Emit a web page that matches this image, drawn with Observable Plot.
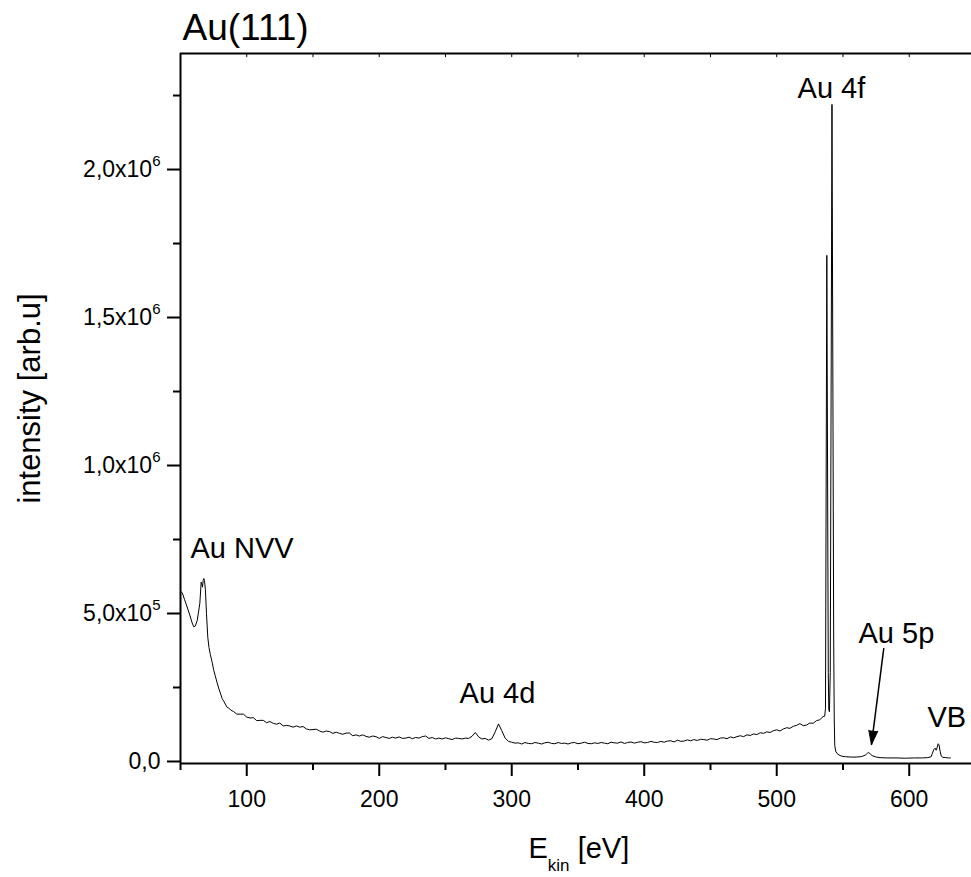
<!DOCTYPE html>
<html><head><meta charset="utf-8">
<script src="https://cdn.jsdelivr.net/npm/d3@7"></script>
<script src="https://cdn.jsdelivr.net/npm/@observablehq/plot@0.6"></script>
<style>body{margin:0;background:#fff}#chart svg{display:block}</style>
</head><body><div id="chart"></div>
<script>
// ---------- data (intensity values in thousands of counts) ----------
// Au NVV region: explicit energies (eV) and intensities (k counts)
const nvvE = [50, 51.3, 53, 55, 57, 58.8, 60, 61.2, 62.6, 63.6, 64.6, 65.6, 66.1, 66.6, 67.1, 67.6, 68.1, 68.8, 69.6, 70.6, 71.5, 72.5, 73.9, 75, 76.2, 77.7, 79, 80.3, 81.5, 82.5, 83.8, 85.2, 86.5, 88, 89];
const nvvI = [575, 570, 548, 522, 495, 468, 455, 458, 476, 505, 535, 606, 600, 589, 612, 618, 611, 580, 500, 420, 385, 362, 335, 310, 290, 265, 245, 228, 212, 205, 194, 183, 180, 174, 171];
// background from 90 eV to 535 eV, one reading every 2.5 eV
const bgStart = 90, bgStep = 2.5;
const bgI = [
  169,160,160,160,150,147,148,138,139,139,
  131,135,129,126,130,120,122,120,116,120,
  116,118,110,107,108,109,103,99,103,101,
  95,99,95,92,96,96,87,90,86,90,
  85,82,86,84,78,84,81,78,82,79,
  83,78,79,82,77,81,79,84,86,78,
  81,76,79,76,80,77,74,79,78,76,
  79,78,85,98,83,76,78,72,77,100,
  127,104,79,68,65,62,63,59,64,61,
  60,64,62,59,63,65,61,60,64,61,
  62,59,63,64,60,62,65,61,60,63,
  61,64,62,60,65,63,62,66,61,64,
  66,62,65,67,63,64,68,65,64,68,
  65,69,70,66,72,68,69,73,70,74,
  71,75,74,72,77,76,74,79,80,77,
  83,80,84,87,84,90,88,93,91,97,
  95,100,98,104,107,103,110,114,112,119,
  122,128,121,123,130,129,138,141,152
];
// Au 4f doublet, Au 5p and valence band region
const hiE = [536.2, 536.8, 537.8, 538.9, 539.3, 539.8, 540.4, 541.7, 543.0, 543.4, 543.8, 544.5, 545.5, 547, 549, 552, 556, 560, 563, 565, 567, 568.5, 569.5, 570.5, 572, 575, 578, 583, 590, 597, 604, 610, 614, 616.5, 617.5, 618.5, 619.5, 620.3, 621, 621.8, 622.5, 623.3, 624.2, 625.5, 627.5, 629.5, 631];
const hiI = [153, 180, 1710, 300, 175, 168, 300, 2220, 400, 150, 55, 35, 27, 22, 18, 16, 15, 15, 16, 18, 22, 28, 30, 26, 20, 15, 13, 12, 12, 11, 12, 12, 13, 16, 28, 40, 45, 38, 46, 60, 56, 35, 18, 14, 13, 12, 12];

// axis ticks
const xMajor = [100, 200, 300, 400, 500, 600];
const xMinor = [50, 150, 250, 350, 450, 550];
const xTop = [100, 150, 200, 250, 300, 350, 400, 450, 500, 550, 600];
const yMajor = [0, 500000, 1000000, 1500000, 2000000];
const yMajorMant = ["0,0", "5,0x10", "1,0x10", "1,5x10", "2,0x10"];
const yMajorExp = ["", "5", "6", "6", "6"];
const yMinor = [250000, 750000, 1250000, 1750000, 2250000];

// text
const title = "Au(111)";
const yLabel = "intensity [arb.u]";
const xLabelMain = "E", xLabelSub = "kin", xLabelUnit = " [eV]";
const labelText = ["Au NVV", "Au 4d", "Au 4f", "Au 5p", "VB"];
const labelE = [57.5, 260.6, 515.7, 561.7, 613.8];
const labelI = [689000, 196000, 2240000, 399000, 115000];
// arrow from "Au 5p" label to the 5p feature
const arrowE = [580.8, 571.5];
const arrowI = [383000, 57000];

// ---------- layout ----------
const width = 971, height = 877;
const mL = 180, mR = 0, mT = 53, mB = 114;
const xDomain = [50, 647];
const yDomain = [-6800, 2392000];

const rows = [];
nvvE.forEach((e, i) => rows.push({E: e, I: nvvI[i] * 1000}));
bgI.forEach((v, i) => rows.push({E: bgStart + i * bgStep, I: v * 1000}));
hiE.forEach((e, i) => rows.push({E: e, I: hiI[i] * 1000}));

// arrow-head direction in screen space
const xs = d3.scaleLinear(xDomain, [mL, width - mR]);
const ys = d3.scaleLinear(yDomain, [height - mB, mT]);
const adx = xs(arrowE[1]) - xs(arrowE[0]);
const ady = ys(arrowI[1]) - ys(arrowI[0]);
const arrowAngle = Math.atan2(adx, -ady) * 180 / Math.PI;

const xLabelRaw = xLabelMain + "_" + xLabelSub + xLabelUnit;

const plot = Plot.plot({
  width, height,
  marginLeft: mL, marginRight: mR, marginTop: mT, marginBottom: mB,
  style: {fontFamily: "'Liberation Sans', Arial, sans-serif", fontSize: "23px", color: "black", background: "white", overflow: "visible"},
  x: {domain: xDomain},
  y: {domain: yDomain},
  marks: [
    Plot.axisX(xMajor, {tickSize: 13, tickPadding: 14, strokeWidth: 2, fontSize: 23, tickFormat: d => String(d), label: null}),
    Plot.axisX(xMinor, {tickSize: 7, strokeWidth: 2, tickFormat: () => "", label: null}),
    Plot.axisY(yMajor, {tickSize: 13, tickPadding: 7, strokeWidth: 2, fontSize: 23,
      tickFormat: d => { const i = yMajor.indexOf(d); return yMajorExp[i] ? yMajorMant[i] + "^" + yMajorExp[i] : yMajorMant[i]; }, label: null}),
    Plot.axisY(yMinor, {tickSize: 7, strokeWidth: 2, tickFormat: () => "", label: null}),
    Plot.ruleX(xTop, {x: d => d, y1: yDomain[1], y2: yDomain[1] - 14000, stroke: "black", strokeWidth: 1}),
    Plot.ruleY([yDomain[0], yDomain[1]], {stroke: "black", strokeWidth: 2}),
    Plot.ruleX([xDomain[0]], {stroke: "black", strokeWidth: 2}),
    Plot.line(rows, {x: "E", y: "I", stroke: "black", strokeWidth: 1}),
    Plot.text(labelText, {x: (d, i) => labelE[i], y: (d, i) => labelI[i], text: d => d, textAnchor: "start", lineAnchor: "bottom", fontSize: 29, fill: "black"}),
    Plot.link([0], {x1: () => arrowE[0], y1: () => arrowI[0], x2: () => arrowE[1], y2: () => arrowI[1], stroke: "black", strokeWidth: 1.5}),
    Plot.vector([0], {x: () => arrowE[1], y: () => arrowI[1], length: 14, r: 4.5, rotate: arrowAngle, shape: "spike", anchor: "end", fill: "black", stroke: "black", strokeWidth: 1}),
    Plot.text([title], {frameAnchor: "top-left", dx: 2, dy: -14, textAnchor: "start", lineAnchor: "bottom", fontSize: 37, fill: "black"}),
    Plot.text([yLabel], {frameAnchor: "left", rotate: -90, dx: -141, dy: -10, textAnchor: "middle", lineAnchor: "bottom", fontSize: 31, fill: "black"}),
    Plot.text([xLabelRaw], {frameAnchor: "bottom", dx: -47.5, dy: 94, textAnchor: "start", lineAnchor: "bottom", fontSize: 29, fill: "black"})
  ]
});

// superscripts / subscripts as real text
d3.select(plot).selectAll("text").each(function () {
  const t = this.textContent;
  const sel = d3.select(this);
  if (t.includes("^")) {
    const [m, e] = t.split("^");
    sel.text(null);
    sel.append("tspan").text(m);
    sel.append("tspan").attr("font-size", 15).attr("dy", -11).text(e);
  } else if (t === xLabelRaw) {
    sel.text(null).style("white-space", "pre");
    sel.append("tspan").text(xLabelMain);
    sel.append("tspan").attr("font-size", 17).attr("dy", 13).text(xLabelSub);
    sel.append("tspan").attr("dy", -13).text(xLabelUnit);
  }
});

document.getElementById("chart").appendChild(plot);
</script>
</body></html>
